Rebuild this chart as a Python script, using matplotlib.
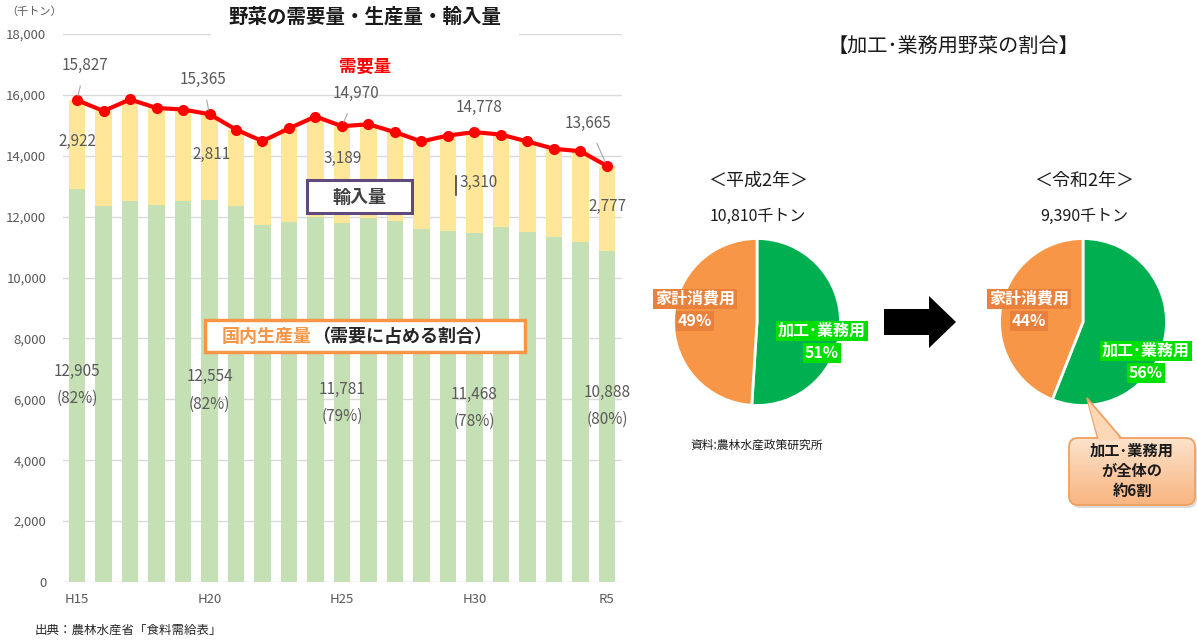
import matplotlib
matplotlib.use("Agg")
import matplotlib.pyplot as plt
import numpy as np
from matplotlib.patches import Rectangle, Polygon, FancyBboxPatch
from matplotlib.colors import LinearSegmentedColormap

plt.rcParams['font.family'] = ['Noto Sans CJK JP', 'DejaVu Sans']

# ---------------- data ----------------
years = ['H15', 'H16', 'H17', 'H18', 'H19', 'H20', 'H21', 'H22', 'H23', 'H24', 'H25',
         'H26', 'H27', 'H28', 'H29', 'H30', 'R1', 'R2', 'R3', 'R4', 'R5']
demand = [15827, 15470, 15850, 15570, 15520, 15365, 14860, 14480, 14900, 15290, 14970,
          15035, 14775, 14470, 14665, 14778, 14695, 14470, 14230, 14150, 13665]
domestic = [12905, 12340, 12500, 12370, 12520, 12554, 12340, 11730, 11830, 12000, 11781,
            11945, 11865, 11590, 11540, 11468, 11670, 11505, 11340, 11175, 10888]
imports = [d - p for d, p in zip(demand, domestic)]
xtick_labels = ['H15', 'H20', 'H25', 'H30', 'R5']
yticks = [0, 2000, 4000, 6000, 8000, 10000, 12000, 14000, 16000, 18000]
labeled_idx = [0, 5, 10, 15, 20]

pie_titles = ['＜平成2年＞', '＜令和2年＞']
pie_totals = ['10,810千トン', '9,390千トン']
pie_labels = ['加工･業務用', '家計消費用']
pie_share = [[51, 49], [56, 44]]

# ---------------- figure ----------------
W, H = 1197, 641
fig = plt.figure(figsize=(W / 100, H / 100), dpi=100)

def fx(px):
    return px / W

def fy(py):
    return 1 - py / H

GREEN_BAR = '#C5E0B4'
YELLOW_BAR = '#FFE699'
RED = '#FF0000'
GRAY = '#595959'

ax = fig.add_axes([fx(63), fy(582), fx(622) - fx(63), fy(34) - fy(582)])
x = np.arange(len(years))
ax.bar(x, domestic, width=0.62, color=GREEN_BAR, zorder=2)
ax.bar(x, imports, bottom=domestic, width=0.62, color=YELLOW_BAR, zorder=2)
ax.plot(x, demand, color=RED, lw=3, marker='o', ms=7, zorder=4)
ax.set_xlim(-0.53, 20.57)
ax.set_ylim(0, 18000)
ax.set_yticks(yticks)
ax.set_yticklabels([f'{v:,}' for v in yticks], color=GRAY, fontsize=9.5)
ax.set_xticks([years.index(t) for t in xtick_labels])
ax.set_xticklabels(xtick_labels, color=GRAY, fontsize=9.5)
ax.tick_params(length=0, pad=8)
ax.tick_params(axis='y', pad=12)
ax.grid(axis='y', color='#D9D9D9', lw=1, zorder=0)
for s in ax.spines.values():
    s.set_visible(False)

dem_off = [(8, 35), (-7, 35), (14, 33), (5, 25), (-19, 43)]
for i, (dx, dy) in zip(labeled_idx, dem_off):
    ax.annotate(f'{demand[i]:,}', xy=(i, demand[i]), xytext=(dx, dy),
                textcoords='offset pixels', ha='center', va='center',
                fontsize=11, color=GRAY, zorder=6,
                arrowprops=dict(arrowstyle='-', color='#A6A6A6', lw=0.8,
                                shrinkA=7, shrinkB=3))
imp_off = [(0, 3), (2, 3), (1, 16), (4, 0), (1, 2)]
for i, (dx, dy) in zip(labeled_idx, imp_off):
    ax.annotate(f'{imports[i]:,}', xy=(i, domestic[i] + imports[i] / 2), xytext=(dx, dy),
                textcoords='offset pixels', ha='center', va='center',
                fontsize=11, color=GRAY, zorder=6)
dom_label_y = [6930, 6735, 6340, 6175, 6240]
for i, yv in zip(labeled_idx, dom_label_y):
    ax.annotate(f'{domestic[i]:,}', xy=(i, yv), xytext=(0, 0), textcoords='offset pixels',
                ha='center', va='center', fontsize=11, color=GRAY, zorder=6)
    ax.annotate(f'({round(domestic[i] / demand[i] * 100)}%)', xy=(i, yv),
                xytext=(0, -27), textcoords='offset pixels',
                ha='center', va='center', fontsize=11, color=GRAY, zorder=6)

# ---------------- pies ----------------
pie_centers = [(757, 322), (1083, 322)]
R = 86
PIE_GREEN = '#00B050'
PIE_ORANGE = '#F79646'
for (cx, cy), shares in zip(pie_centers, pie_share):
    pax = fig.add_axes([fx(cx - R), fy(cy + R), fx(2 * R), (2 * R) / H])
    pax.pie(shares, colors=[PIE_GREEN, PIE_ORANGE], startangle=90, counterclock=False,
            wedgeprops=dict(edgecolor='white', linewidth=2))
    pax.set_xlim(-1.03, 1.03)
    pax.set_ylim(-1.03, 1.03)
    pax.set_aspect('equal')
    pax.axis('off')

# ---------------- overlay ----------------
ov = fig.add_axes([0, 0, 1, 1], zorder=10)
ov.set_xlim(0, W)
ov.set_ylim(H, 0)
ov.axis('off')
ov.patch.set_alpha(0)

ov.text(34, 12, '（千トン）', fontsize=8, color=GRAY, ha='center', va='center')
ov.text(365, 17, '野菜の需要量・生産量・輸入量', fontsize=14, fontweight='bold',
        color='#1a1a1a', ha='center', va='center',
        bbox=dict(boxstyle='square,pad=0.9', fc='white', ec='none'))
ov.text(365, 67, '需要量', fontsize=12.5, fontweight='bold', color=RED, ha='center', va='center')

ov.add_patch(Rectangle((307, 180), 105, 33, fc='white', ec='#604A7B', lw=2.2))
ov.text(359.5, 197, '輸入量', fontsize=13, fontweight='bold', color='#404040',
        ha='center', va='center')

ov.add_patch(Rectangle((205, 320), 320, 32, fc='white', ec='#F79646', lw=2.5))
t1 = ov.text(222, 337, '国内生産量', fontsize=13, fontweight='bold', color='#F79646',
             ha='left', va='center')
ov.annotate('（需要に占める割合）', xy=(1, 0.5), xycoords=t1, ha='left', va='center',
            fontsize=13, fontweight='bold', color='#262626')

ov.plot([456, 456], [176, 195], color='#404040', lw=1.2)

ov.text(35, 630, '出典：農林水産省「食料需給表」', fontsize=9, color='#262626',
        ha='left', va='center')

ov.text(953, 46, '【加工･業務用野菜の割合】', fontsize=14.5, color='#1a1a1a',
        ha='center', va='center')
for (cx, cy), ttl, tot in zip(pie_centers, pie_titles, pie_totals):
    ov.text(cx + 1, 181, ttl, fontsize=13, color='#1a1a1a', ha='center', va='center')
    ov.text(cx + 1, 216, tot, fontsize=11.5, color='#1a1a1a', ha='center', va='center')

lab_pos = [[(822, 331), (695, 299)], [(1146, 351), (1029, 299)]]
bg = ['#00E000', '#E9813C']
for shares, poss in zip(pie_share, lab_pos):
    for k in range(2):
        px, py = poss[k]
        ov.text(px, py, pie_labels[k], fontsize=11.5, fontweight='bold', color='white',
                ha='center', va='center',
                bbox=dict(boxstyle='square,pad=0.12', fc=bg[k], ec='none'))
        ov.text(px, py + 22, f'{shares[k]}%', fontsize=11.5, fontweight='bold', color='white',
                ha='center', va='center',
                bbox=dict(boxstyle='square,pad=0.12', fc=bg[k], ec='none'))

ov.text(690, 445, '資料:農林水産政策研究所', fontsize=8.5, color='#1a1a1a',
        ha='left', va='center')

ov.add_patch(Polygon([(884, 309), (929, 309), (929, 296), (956, 322), (929, 348),
                      (929, 335), (884, 335)], closed=True, fc='black', ec='none'))

# callout
box = FancyBboxPatch((1069, 438), 126, 67, boxstyle='round,pad=0,rounding_size=9',
                     fc='none', ec='#F0A060', lw=1.3, zorder=3)
ptr = Polygon([(1098, 439), (1087, 398), (1122, 439)], closed=True,
              fc='#FCD8B6', ec='#F0A060', lw=1.3, zorder=2)
ov.add_patch(ptr)
shadow = FancyBboxPatch((1071, 441), 126, 67, boxstyle='round,pad=0,rounding_size=9',
                        fc='#BBBBBB', ec='none', alpha=0.5, zorder=1)
ov.add_patch(shadow)
grad = np.linspace(0, 1, 100).reshape(-1, 1)
cmap = LinearSegmentedColormap.from_list('peach', ['#FDE3CC', '#F9B580'])
im = ov.imshow(grad, extent=(1069, 1195, 505, 438), cmap=cmap, aspect='auto',
               origin='upper', zorder=2.5)
ov.add_patch(box)
clipbox = FancyBboxPatch((1069, 438), 126, 67, boxstyle='round,pad=0,rounding_size=9',
                         fc='none', ec='none', transform=ov.transData)
im.set_clip_path(clipbox)
ov.add_patch(Polygon([(1099, 440.5), (1088, 402), (1121, 440.5)], closed=True,
                     fc='#FCD8B6', ec='none', zorder=3.5))
ov.text(1132, 471, '加工･業務用\nが全体の\n約6割', fontsize=11, fontweight='bold',
        color='#1a1a1a', ha='center', va='center', linespacing=1.3, zorder=5)
ov.set_xlim(0, W)
ov.set_ylim(H, 0)

fig.savefig('out.png', dpi=100)
